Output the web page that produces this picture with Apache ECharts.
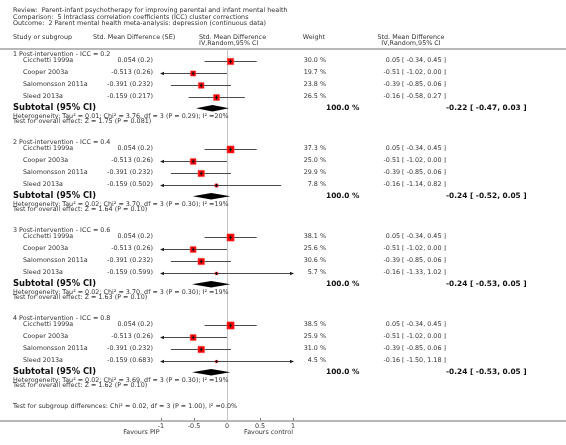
<!DOCTYPE html>
<html><head><meta charset="utf-8">
<script src="https://cdn.jsdelivr.net/npm/echarts@6/dist/echarts.min.js"></script>
<style>html,body{margin:0;padding:0;background:#fff}#c{width:566px;height:445px}</style>
</head><body><div id="c"></div>
<script>
// ---------- data ----------
const titleLines = [
  "Review:  Parent-infant psychotherapy for improving parental and infant mental health",
  "Comparison:  5 Intraclass correlation coefficients (ICC) cluster corrections",
  "Outcome:  2 Parent mental health meta-analysis: depression (continuous data)"
];
const groupNames = [
  "1 Post-intervention - ICC = 0.2",
  "2 Post-intervention - ICC = 0.4",
  "3 Post-intervention - ICC = 0.6",
  "4 Post-intervention - ICC = 0.8"
];
const studyNames = ["Cicchetti 1999a", "Cooper 2003a", "Salomonsson 2011a", "Sleed 2013a"];
const smd = [0.054, -0.513, -0.391, -0.159];
const seByGroup = [
  [0.2, 0.26, 0.232, 0.217],
  [0.2, 0.26, 0.232, 0.502],
  [0.2, 0.26, 0.232, 0.599],
  [0.2, 0.26, 0.232, 0.683]
];
const ciLowByGroup = [
  [-0.34, -1.02, -0.85, -0.58],
  [-0.34, -1.02, -0.85, -1.14],
  [-0.34, -1.02, -0.85, -1.33],
  [-0.34, -1.02, -0.85, -1.50]
];
const ciHighByGroup = [
  [0.45, 0.00, 0.06, 0.27],
  [0.45, 0.00, 0.06, 0.82],
  [0.45, 0.00, 0.06, 1.02],
  [0.45, 0.00, 0.06, 1.18]
];
const weightByGroup = [
  [30.0, 19.7, 23.8, 26.5],
  [37.3, 25.0, 29.9, 7.8],
  [38.1, 25.6, 30.6, 5.7],
  [38.5, 25.9, 31.0, 4.5]
];
const subEst = [-0.22, -0.24, -0.24, -0.24];
const subLow = [-0.47, -0.52, -0.53, -0.53];
const subHigh = [0.03, 0.05, 0.05, 0.05];
const subWeight = [100.0, 100.0, 100.0, 100.0];
const hetText = [
  "Heterogeneity: Tau\u00b2 = 0.01; Chi\u00b2 = 3.76, df = 3 (P = 0.29); I\u00b2 =20%",
  "Heterogeneity: Tau\u00b2 = 0.02; Chi\u00b2 = 3.70, df = 3 (P = 0.30); I\u00b2 =19%",
  "Heterogeneity: Tau\u00b2 = 0.02; Chi\u00b2 = 3.70, df = 3 (P = 0.30); I\u00b2 =19%",
  "Heterogeneity: Tau\u00b2 = 0.02; Chi\u00b2 = 3.69, df = 3 (P = 0.30); I\u00b2 =19%"
];
const effectText = [
  "Test for overall effect: Z = 1.75 (P = 0.081)",
  "Test for overall effect: Z = 1.64 (P = 0.10)",
  "Test for overall effect: Z = 1.63 (P = 0.10)",
  "Test for overall effect: Z = 1.62 (P = 0.10)"
];
const subgroupDiffText = "Test for subgroup differences: Chi\u00b2 = 0.02, df = 3 (P = 1.00), I\u00b2 =0.0%";
const axisMin = -1, axisMax = 1, axisInterval = 0.5;
const favoursLeft = "Favours PIP", favoursRight = "Favours control";
const headers = {
  study: "Study or subgroup", se: "Std. Mean Difference (SE)",
  plot1: "Std. Mean Difference", plot2: "IV,Random,95% CI",
  weight: "Weight", ci1: "Std. Mean Difference", ci2: "IV,Random,95% CI"
};

// ---------- layout ----------
const FF = '"DejaVu Sans"';
const FS = 6.4;
const TXT = '#333';
const G0 = 54.3, GSTEP = 88;
const rowY = {
  header: g => G0 + g * GSTEP,
  study: (g, i) => G0 + g * GSTEP + 6.2 + 12 * i,
  subtotal: g => G0 + g * GSTEP + 54,
  het: g => G0 + g * GSTEP + 61.6,
  eff: g => G0 + g * GSTEP + 67.5
};
const PLOT_TOP = 49, PLOT_BOTTOM = 421, PLOT_LEFT = 161, PLOT_W = 132;

function fmt2(v) { return v.toFixed(2); }
function ciStr(e, l, h) { return fmt2(e) + " [ " + fmt2(l) + ", " + fmt2(h) + " ]"; }

const texts = [];
function T(text, x, y, opt) {
  opt = opt || {};
  texts.push({
    type: 'text', silent: true, z: 10,
    style: {
      text: text, x: x, y: y,
      font: (opt.bold ? 'bold ' : '') + (opt.size || FS) + 'px ' + FF,
      fill: opt.color || TXT,
      align: opt.align || 'left', textAlign: opt.align || 'left',
      verticalAlign: 'middle', textVerticalAlign: 'middle'
    }
  });
}
// titles
T(titleLines[0], 13, 10.8);
T(titleLines[1], 13, 17.2);
T(titleLines[2], 13, 23.8);
// headers
T(headers.study, 13, 37.8);
T(headers.se, 93, 37.8);
T(headers.plot1, 199, 37.8);
T(headers.plot2, 199, 43.5);
T(headers.weight, 325, 37.8, { align: 'right' });
T(headers.ci1, 411, 37.8, { align: 'center' });
T(headers.ci2, 411, 43.5, { align: 'center' });

const studyData = [];
const diamondData = [];
for (let g = 0; g < groupNames.length; g++) {
  T(groupNames[g], 13, rowY.header(g));
  for (let i = 0; i < studyNames.length; i++) {
    const y = rowY.study(g, i);
    T(studyNames[i], 23, y);
    T(String(smd[i]) + " (" + String(seByGroup[g][i]) + ")", 153, y, { align: 'right' });
    T(weightByGroup[g][i].toFixed(1) + " %", 326, y, { align: 'right' });
    T(ciStr(smd[i], ciLowByGroup[g][i], ciHighByGroup[g][i]), 446, y, { align: 'right' });
    studyData.push([ciLowByGroup[g][i], ciHighByGroup[g][i], smd[i], weightByGroup[g][i], y]);
  }
  const ys = rowY.subtotal(g);
  T("Subtotal (95% CI)", 13, ys, { bold: true, size: 8.4, color: '#111' });
  T(subWeight[g].toFixed(1) + " %", 326, ys, { bold: true, size: 7.4, color: '#111' });
  T(ciStr(subEst[g], subLow[g], subHigh[g]), 446, ys, { bold: true, size: 7.4, color: '#111' });
  T(hetText[g], 13, rowY.het(g));
  T(effectText[g], 13, rowY.eff(g));
  diamondData.push([subLow[g], subHigh[g], subEst[g], ys]);
}
T(subgroupDiffText, 13, 406.7);
T(favoursLeft, 159.5, 432.8, { align: 'right' });
T(favoursRight, 293, 432.8, { align: 'right' });

// decorative rules
texts.push({ type: 'rect', silent: true, z: 1, shape: { x: 0, y: 48.2, width: 566, height: 1.6 }, style: { fill: '#a0a0a0' } });
texts.push({ type: 'rect', silent: true, z: 1, shape: { x: 0, y: 420.2, width: 566, height: 1.6 }, style: { fill: '#a0a0a0' } });

// ---------- chart ----------
const chart = echarts.init(document.getElementById('c'), null, { renderer: 'canvas' });
chart.setOption({
  animation: false,
  backgroundColor: '#fff',
  grid: { left: PLOT_LEFT, width: PLOT_W, top: PLOT_TOP, height: PLOT_BOTTOM - PLOT_TOP, containLabel: false },
  xAxis: {
    type: 'value', min: axisMin, max: axisMax, interval: axisInterval,
    axisLine: { show: false },
    axisTick: { show: true, inside: true, length: 3, lineStyle: { color: '#777', width: 1 } },
    axisLabel: {
      show: true, margin: 2, color: TXT, fontSize: FS, fontFamily: 'DejaVu Sans',
      formatter: v => String(v), showMinLabel: true, showMaxLabel: true
    },
    splitLine: { show: false }
  },
  yAxis: {
    type: 'value', min: PLOT_TOP, max: PLOT_BOTTOM, inverse: true, show: false,
    splitLine: { show: false }
  },
  graphic: { elements: texts },
  series: [
    {
      type: 'custom', name: 'studies', clip: false, z: 5,
      data: studyData,
      encode: { x: [0, 1, 2], y: 4 },
      renderItem: function (params, api) {
        const lo = api.value(0), hi = api.value(1), est = api.value(2), w = api.value(3), y = api.value(4);
        const cl = Math.max(lo, axisMin), ch = Math.min(hi, axisMax);
        const p1 = api.coord([cl, y]), p2 = api.coord([ch, y]), pe = api.coord([est, y]);
        const yy = Math.round(p1[1]) + 0.5;
        const ch_ = [];
        ch_.push({ type: 'line', shape: { x1: p1[0], y1: yy, x2: p2[0], y2: yy }, style: { stroke: '#4a4a4a', lineWidth: 1 } });
        if (lo < axisMin) ch_.push({ type: 'polygon', shape: { points: [[p1[0] - 1, yy], [p1[0] + 3, yy - 1.8], [p1[0] + 3, yy + 1.8]] }, style: { fill: '#222' } });
        if (hi > axisMax) ch_.push({ type: 'polygon', shape: { points: [[p2[0] + 1, yy], [p2[0] - 3, yy - 1.8], [p2[0] - 3, yy + 1.8]] }, style: { fill: '#222' } });
        const s = 1.15 * Math.sqrt(w);
        ch_.push({ type: 'rect', shape: { x: pe[0] - s / 2, y: yy - s / 2, width: s, height: s }, style: { fill: '#ff0000', stroke: 'rgba(255,60,60,0.55)', lineWidth: 1 } });
        const t = Math.min(4, s * 0.7 + 1);
        ch_.push({ type: 'line', shape: { x1: pe[0], y1: yy - t / 2, x2: pe[0], y2: yy + t / 2 }, style: { stroke: '#111', lineWidth: 1 } });
        ch_.push({ type: 'line', shape: { x1: pe[0] - 1.5, y1: yy, x2: pe[0] + 1.5, y2: yy }, style: { stroke: '#111', lineWidth: 1 } });
        return { type: 'group', children: ch_ };
      },
      markLine: {
        silent: true, symbol: 'none', label: { show: false },
        lineStyle: { color: '#c4c4c4', width: 1, type: 'solid' },
        data: [{ xAxis: 0 }]
      }
    },
    {
      type: 'custom', name: 'subtotals', clip: false, z: 6,
      data: diamondData,
      encode: { x: [0, 1, 2], y: 3 },
      renderItem: function (params, api) {
        const lo = api.value(0), hi = api.value(1), est = api.value(2), y = api.value(3);
        const a = api.coord([lo, y]), b = api.coord([hi, y]), c = api.coord([est, y]);
        const h = 3.2;
        return {
          type: 'polygon',
          shape: { points: [[a[0], a[1]], [c[0], c[1] - h], [b[0], b[1]], [c[0], c[1] + h]] },
          style: { fill: '#000' }
        };
      }
    }
  ]
});
</script>
</body></html>
